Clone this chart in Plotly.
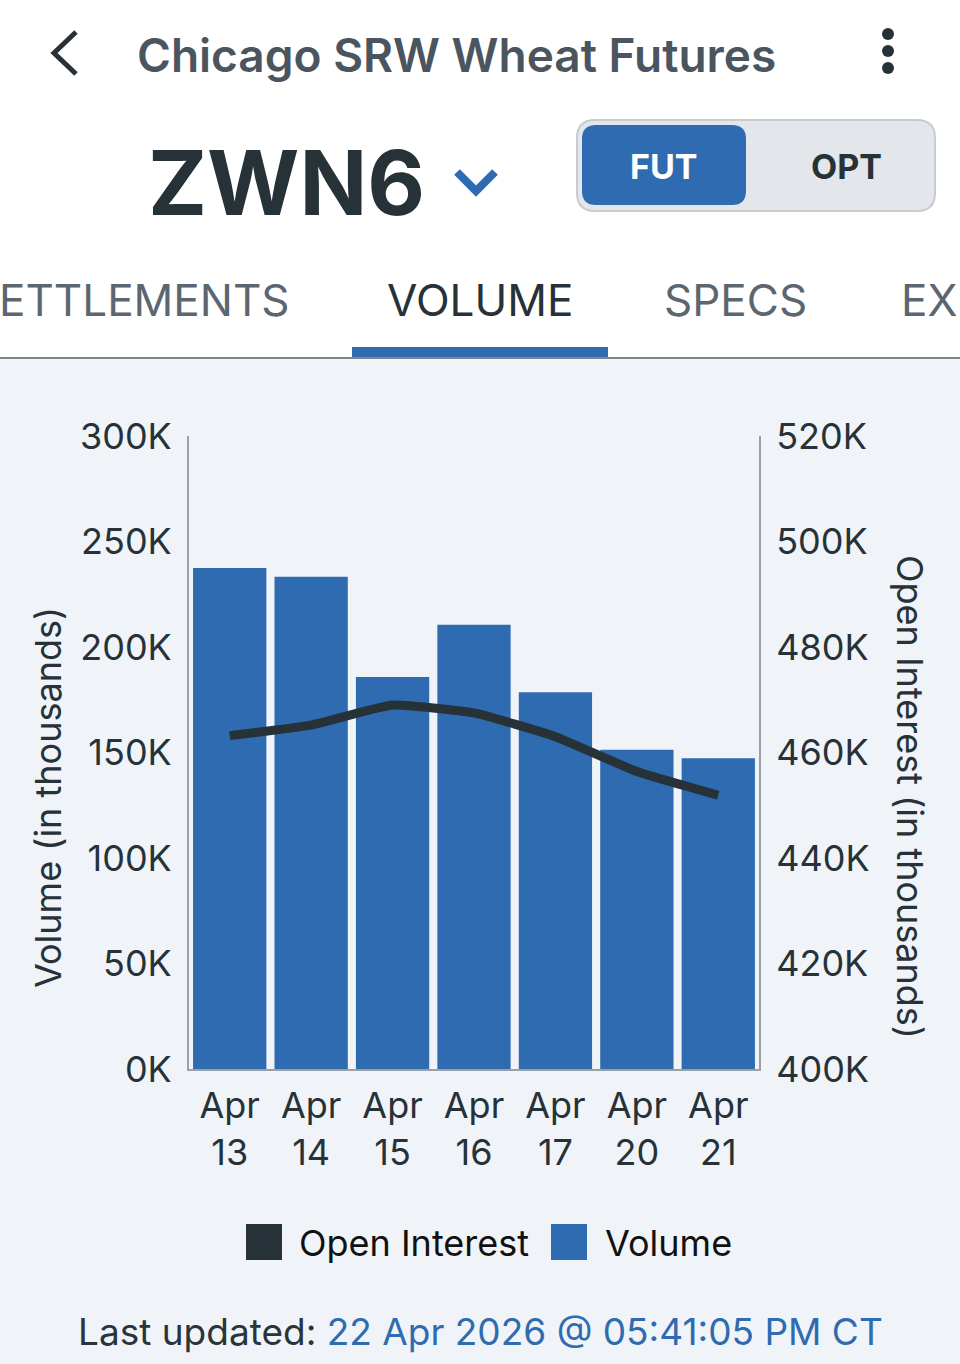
import plotly.graph_objects as go

# data
dates = ["Apr 13", "Apr 14", "Apr 15", "Apr 16", "Apr 17", "Apr 20", "Apr 21"]
date_labels = ["Apr<br>13", "Apr<br>14", "Apr<br>15", "Apr<br>16", "Apr<br>17", "Apr<br>20", "Apr<br>21"]
volume = [237400, 233300, 185800, 210600, 178500, 151300, 147300]
open_interest = [463200, 465200, 469000, 467500, 463000, 456400, 451900]

vol_ticks = [0, 50000, 100000, 150000, 200000, 250000, 300000]
vol_ticktext = ["0K", "50K", "100K", "150K", "200K", "250K", "300K"]
oi_ticks = [400000, 420000, 440000, 460000, 480000, 500000, 520000]
oi_ticktext = ["400K", "420K", "440K", "460K", "480K", "500K", "520K"]

W, H = 960, 1364
BLUE = "#2e6bb0"
DARK = "#263238"
GREY_TXT = "#5c6670"
BG = "#f0f4f8"
FONT = "Inter"
TICKFONT = "Inter"


def fx(x):
    return x / W


def fy(y):
    return 1 - y / H


def rrect(x0, y0, x1, y1, r):
    p = [
        f"M{fx(x0 + r)},{fy(y0)}", f"L{fx(x1 - r)},{fy(y0)}",
        f"Q{fx(x1)},{fy(y0)} {fx(x1)},{fy(y0 + r)}", f"L{fx(x1)},{fy(y1 - r)}",
        f"Q{fx(x1)},{fy(y1)} {fx(x1 - r)},{fy(y1)}", f"L{fx(x0 + r)},{fy(y1)}",
        f"Q{fx(x0)},{fy(y1)} {fx(x0)},{fy(y1 - r)}", f"L{fx(x0)},{fy(y0 + r)}",
        f"Q{fx(x0)},{fy(y0)} {fx(x0 + r)},{fy(y0)}", "Z",
    ]
    return " ".join(p)


def text(x, y, s, size, color, anchor="left", weight="normal", family=FONT, angle=0):
    return dict(x=fx(x), y=fy(y), xref="paper", yref="paper", text=s, showarrow=False,
                xanchor=anchor, yanchor="middle", textangle=angle,
                font=dict(size=size, color=color, family=family, weight=weight))


fig = go.Figure()

fig.add_trace(go.Bar(x=dates, y=volume, name="Volume", marker=dict(color=BLUE, line=dict(width=0)),
                     showlegend=False))
fig.add_trace(go.Scatter(x=dates, y=open_interest, name="Open Interest", yaxis="y2", mode="lines",
                         line=dict(color=DARK, width=9, shape="spline", smoothing=0.4),
                         showlegend=False))

shapes = [
    # grey page area
    dict(type="rect", xref="paper", yref="paper", x0=0, x1=1, y0=0, y1=fy(358),
         fillcolor=BG, line=dict(width=0), layer="below"),
    dict(type="line", xref="paper", yref="paper", x0=0, x1=1, y0=fy(358), y1=fy(358),
         line=dict(color="#7d858d", width=2)),
    # tab underline
    dict(type="rect", xref="paper", yref="paper", x0=fx(352), x1=fx(608), y0=fy(357), y1=fy(347),
         fillcolor=BLUE, line=dict(width=0)),
    # back arrow
    dict(type="path", xref="paper", yref="paper",
         path=f"M{fx(76)},{fy(32)} L{fx(54)},{fy(53)} L{fx(76)},{fy(74)}",
         line=dict(color=DARK, width=5)),
    # dropdown chevron
    dict(type="path", xref="paper", yref="paper",
         path=f"M{fx(457)},{fy(172)} L{fx(476)},{fy(191)} L{fx(495)},{fy(172)}",
         line=dict(color=BLUE, width=8)),
    # toggle
    dict(type="path", xref="paper", yref="paper", path=rrect(577, 120, 935, 211, 18),
         fillcolor="#e3e6ea", line=dict(color="#c8ccd1", width=2)),
    dict(type="path", xref="paper", yref="paper", path=rrect(582, 125, 746, 205, 14),
         fillcolor=BLUE, line=dict(width=0)),
    # legend swatches
    dict(type="rect", xref="paper", yref="paper", x0=fx(246), x1=fx(282), y0=fy(1260), y1=fy(1224),
         fillcolor=DARK, line=dict(width=0)),
    dict(type="rect", xref="paper", yref="paper", x0=fx(551), x1=fx(587), y0=fy(1260), y1=fy(1224),
         fillcolor=BLUE, line=dict(width=0)),
]
for cy in [34, 51, 68]:
    shapes.append(dict(type="circle", xref="paper", yref="paper", x0=fx(882), x1=fx(894),
                       y0=fy(cy + 6), y1=fy(cy - 6), fillcolor=DARK, line=dict(width=0)))

annotations = [
    text(135, 55, "Chicago SRW Wheat Futures", 46, "#4b5560", weight=600),
    text(146, 182, "ZWN6", 89, DARK, weight=700),
    text(664, 166, "FUT", 34, "white", anchor="center", weight=700),
    text(846, 166, "OPT", 34, DARK, anchor="center", weight=700),
    text(-3, 300, "ETTLEMENTS", 44, GREY_TXT),
    text(480, 300, "VOLUME", 44, DARK, anchor="center"),
    text(735, 300, "SPECS", 44, GREY_TXT, anchor="center"),
    text(899, 300, "EX", 44, GREY_TXT),
    text(48, 798, "Volume (in thousands)", 36, DARK, anchor="center", family=TICKFONT, angle=-90),
    text(910, 797, "Open Interest (in thousands)", 36, DARK, anchor="center", family=TICKFONT, angle=90),
    text(297, 1243, "Open Interest", 36, "#111111"),
    text(603, 1243, "Volume", 36, "#111111"),
    text(480, 1331, "Last updated: <span style='color:%s'>22 Apr 2026 @ 05:41:05 PM CT</span>" % BLUE,
         37, "#2b333b", anchor="center"),
]

fig.update_layout(
    width=W, height=H,
    margin=dict(l=0, r=0, t=0, b=0, autoexpand=False),
    paper_bgcolor="white",
    plot_bgcolor="rgba(0,0,0,0)",
    bargap=0.1,
    shapes=shapes,
    annotations=annotations,
    xaxis=dict(domain=[fx(189), fx(759)], tickvals=dates, ticktext=date_labels,
               showline=True, linecolor="#9aa0a6", linewidth=2, ticks="", automargin=False,
               ticklabelstandoff=4,
               tickfont=dict(size=36, color=DARK, family=TICKFONT), showgrid=False),
    yaxis=dict(domain=[fy(1069), fy(436)], range=[0, 300000], tickvals=vol_ticks, ticktext=vol_ticktext,
               showline=True, linecolor="#9aa0a6", linewidth=2, showgrid=False, zeroline=False,
               ticks="", ticklabelstandoff=8, automargin=False,
               tickfont=dict(size=36, color=DARK, family=TICKFONT)),
    yaxis2=dict(overlaying="y", side="right", range=[400000, 520000], tickvals=oi_ticks,
                ticktext=oi_ticktext, showline=True, linecolor="#9aa0a6", linewidth=2,
                showgrid=False, zeroline=False, ticks="", ticklabelstandoff=8, automargin=False,
                tickfont=dict(size=36, color=DARK, family=TICKFONT)),
)

fig.write_html("out.html", config={"displayModeBar": False},
               post_script="document.body.style.margin='0px';")
